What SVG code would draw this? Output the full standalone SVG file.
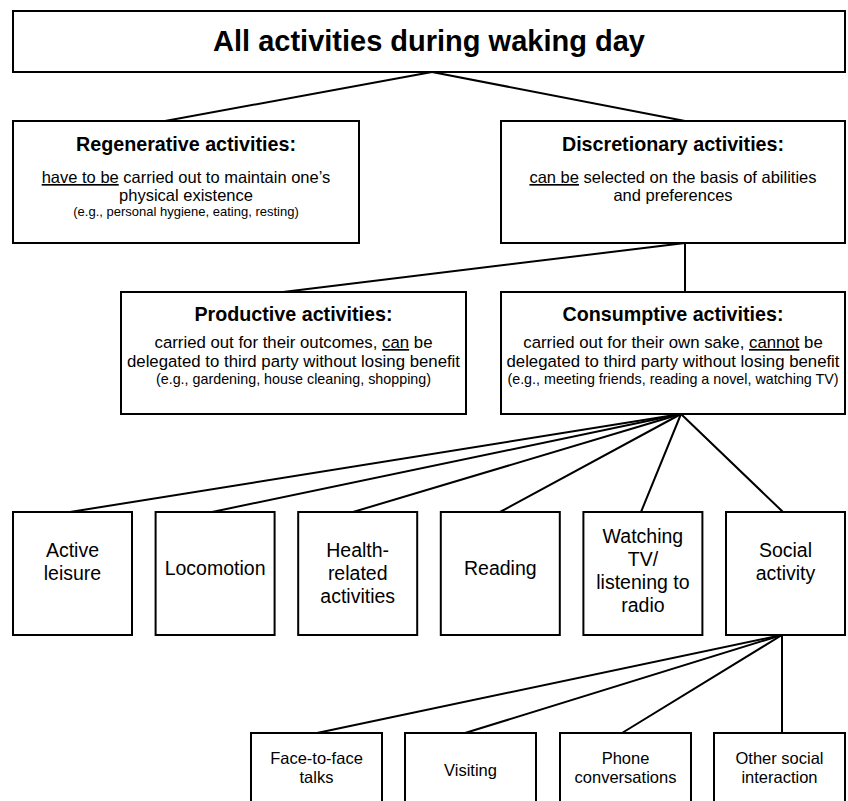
<svg xmlns="http://www.w3.org/2000/svg" width="848" height="801" viewBox="0 0 848 801">
<style>
.box{fill:#fff;stroke:#000;stroke-width:2}
.conn line{stroke:#000;stroke-width:2;stroke-linecap:round}
text{font-family:"Liberation Sans",Arial,Helvetica,sans-serif;fill:#000;text-anchor:middle}
.t0{font-size:29px;font-weight:bold}
.t1{font-size:19.7px;font-weight:bold}
.b1{font-size:16.5px}
.b2{font-size:16.8px}
.e1{font-size:13px}
.e2{font-size:14.3px}
.l3{font-size:19.5px}
.l4{font-size:16.5px}
.u{text-decoration:underline}
</style>
<rect width="848" height="801" fill="#fff"/>
<g id="connectors" class="conn">
<line x1="432" y1="72" x2="165" y2="121"/>
<line x1="432" y1="72" x2="685" y2="121"/>
<line x1="685" y1="243" x2="283" y2="292"/>
<line x1="685" y1="243" x2="685" y2="292"/>
<line x1="681" y1="414" x2="70" y2="512"/>
<line x1="681" y1="414" x2="212" y2="512"/>
<line x1="681" y1="414" x2="353" y2="512"/>
<line x1="681" y1="414" x2="500" y2="512"/>
<line x1="681" y1="414" x2="641" y2="512"/>
<line x1="681" y1="414" x2="783" y2="512"/>
<line x1="782" y1="635" x2="317" y2="733"/>
<line x1="782" y1="635" x2="465" y2="733"/>
<line x1="782" y1="635" x2="622" y2="733"/>
<line x1="782" y1="635" x2="782" y2="733"/>
</g>
<g id="all">
<rect class="box" x="13" y="11" width="832" height="61"/>
<text class="t0" x="429" y="51">All activities during waking day</text>
</g>
<g id="regenerative">
<rect class="box" x="13" y="121" width="346" height="122"/>
<text class="t1" x="186" y="151">Regenerative activities:</text>
<text class="b1" x="186" y="183"><tspan class="u">have to be</tspan> carried out to maintain one’s</text>
<text class="b1" x="186" y="201">physical existence</text>
<text class="e1" x="186" y="216">(e.g., personal hygiene, eating, resting)</text>
</g>
<g id="discretionary">
<rect class="box" x="501" y="121" width="344" height="122"/>
<text class="t1" x="673" y="151">Discretionary activities:</text>
<text class="b1" x="673" y="183"><tspan class="u">can be</tspan> selected on the basis of abilities</text>
<text class="b1" x="673" y="201">and preferences</text>
</g>
<g id="productive">
<rect class="box" x="121" y="292" width="345" height="122"/>
<text class="t1" x="293.5" y="321">Productive activities:</text>
<text class="b2" x="293.5" y="348">carried out for their outcomes, <tspan class="u">can</tspan> be</text>
<text class="b2" x="293.5" y="367">delegated to third party without losing benefit</text>
<text class="e2" x="293.5" y="384">(e.g., gardening, house cleaning, shopping)</text>
</g>
<g id="consumptive">
<rect class="box" x="501" y="292" width="344" height="122"/>
<text class="t1" x="673" y="321">Consumptive activities:</text>
<text class="b2" x="673" y="348">carried out for their own sake, <tspan class="u">cannot</tspan> be</text>
<text class="b2" x="673" y="367">delegated to third party without losing benefit</text>
<text class="e2" x="673" y="384">(e.g., meeting friends, reading a novel, watching TV)</text>
</g>
<g id="active-leisure">
<rect class="box" x="13" y="512" width="119" height="123"/>
<text class="l3" x="72.5" y="557">Active</text>
<text class="l3" x="72.5" y="580">leisure</text>
</g>
<g id="locomotion">
<rect class="box" x="155.6" y="512" width="119" height="123"/>
<text class="l3" x="215.1" y="575">Locomotion</text>
</g>
<g id="health">
<rect class="box" x="298.2" y="512" width="119" height="123"/>
<text class="l3" x="357.7" y="557">Health-</text>
<text class="l3" x="357.7" y="580">related</text>
<text class="l3" x="357.7" y="603">activities</text>
</g>
<g id="reading">
<rect class="box" x="440.8" y="512" width="119" height="123"/>
<text class="l3" x="500.3" y="575">Reading</text>
</g>
<g id="watching">
<rect class="box" x="583.4" y="512" width="119" height="123"/>
<text class="l3" x="642.9" y="543">Watching</text>
<text class="l3" x="642.9" y="566">TV/</text>
<text class="l3" x="642.9" y="589">listening to</text>
<text class="l3" x="642.9" y="612">radio</text>
</g>
<g id="social">
<rect class="box" x="726" y="512" width="119" height="123"/>
<text class="l3" x="785.5" y="557">Social</text>
<text class="l3" x="785.5" y="580">activity</text>
</g>
<g id="face-to-face">
<rect class="box" x="251" y="733" width="131" height="90"/>
<text class="l4" x="316.5" y="764">Face-to-face</text>
<text class="l4" x="316.5" y="783">talks</text>
</g>
<g id="visiting">
<rect class="box" x="405" y="733" width="131" height="90"/>
<text class="l4" x="470.5" y="776">Visiting</text>
</g>
<g id="phone">
<rect class="box" x="560" y="733" width="131" height="90"/>
<text class="l4" x="625.5" y="764">Phone</text>
<text class="l4" x="625.5" y="783">conversations</text>
</g>
<g id="other-social">
<rect class="box" x="714" y="733" width="131" height="90"/>
<text class="l4" x="779.5" y="764">Other social</text>
<text class="l4" x="779.5" y="783">interaction</text>
</g>
</svg>
